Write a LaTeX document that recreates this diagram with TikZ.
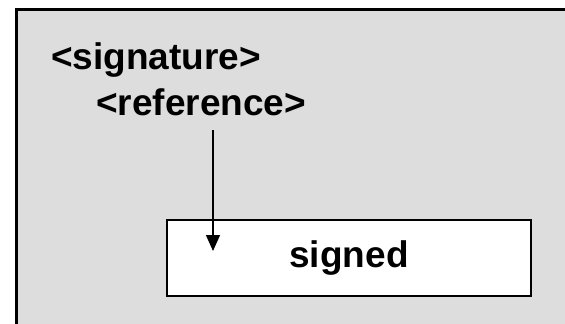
\documentclass[tikz,border=0pt]{standalone}
\usepackage{fontspec}
\setmainfont{Liberation Sans}
\usetikzlibrary{arrows.meta}
\definecolor{panelgray}{RGB}{221,221,221}
\tikzset{
  lbl/.style={font=\bfseries\fontsize{37}{44}\selectfont, inner sep=0pt},
  signedbox/.style={draw=black, line width=2pt, fill=white, minimum width=364pt, minimum height=76pt, inner sep=0pt, font=\bfseries\fontsize{37}{44}\selectfont},
  conn/.style={line width=1.3pt, -{Triangle[width=14pt,length=16pt]}}
}
\begin{document}
\begin{tikzpicture}[x=1pt,y=-1pt]
\useasboundingbox (0,0) rectangle (565,324);
\begin{scope}
\clip (0,0) rectangle (565,324);
\draw[line width=3pt, fill=panelgray] (16.5,9.5) rectangle (580,340);
\end{scope}
\node[lbl, anchor=base west] (sig) at (51,69) {<signature>};
\node[lbl, anchor=base west] (ref) at (96,115) {<reference>};
\node[signedbox] (signed) at (349,258) {signed};
\coordinate (from) at (213,130);
\coordinate (to) at (213,251);
\draw[conn] (from) -- (to);
\end{tikzpicture}
\end{document}
